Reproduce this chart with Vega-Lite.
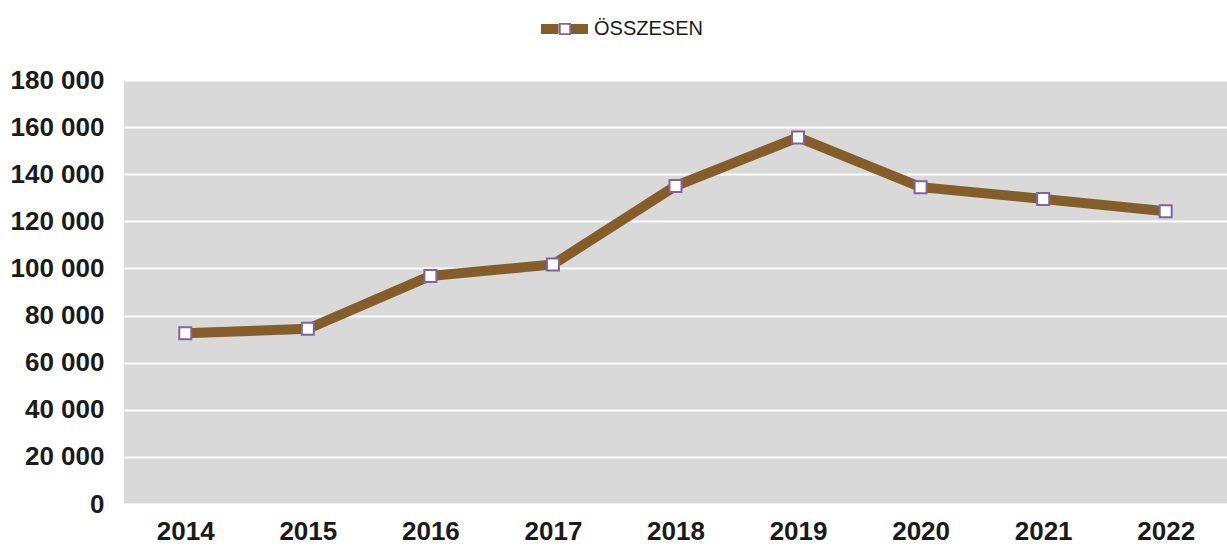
{
  "$schema": "https://vega.github.io/schema/vega-lite/v6.json",
  "width": 1103,
  "height": 424,
  "autosize": {"type": "none"},
  "padding": {"left": 124, "top": 80, "right": 0, "bottom": 43},
  "background": "white",
  "data": {
    "values": [
      {"year": "2014", "value": 72500},
      {"year": "2015", "value": 74400},
      {"year": "2016", "value": 96800},
      {"year": "2017", "value": 101700},
      {"year": "2018", "value": 135000},
      {"year": "2019", "value": 155600},
      {"year": "2020", "value": 134500},
      {"year": "2021", "value": 129500},
      {"year": "2022", "value": 124300}
    ]
  },
  "encoding": {
    "x": {
      "field": "year",
      "type": "ordinal",
      "scale": {"paddingInner": 0, "paddingOuter": 0},
      "axis": {
        "title": null,
        "labelAngle": 0,
        "grid": false,
        "ticks": false,
        "domain": false,
        "labelPadding": 14,
        "labelFontSize": 26,
        "labelFontWeight": "bold",
        "labelFont": "Liberation Sans",
        "labelColor": "#1a1a1a"
      }
    },
    "y": {
      "field": "value",
      "type": "quantitative",
      "scale": {"domain": [0, 180000], "nice": false},
      "axis": {
        "title": null,
        "values": [0, 20000, 40000, 60000, 80000, 100000, 120000, 140000, 160000, 180000],
        "labelExpr": "replace(format(datum.value, ','), ',', ' ')",
        "grid": true,
        "gridColor": "white",
        "gridWidth": 2,
        "ticks": false,
        "domain": false,
        "labelPadding": 20,
        "labelFontSize": 26,
        "labelFontWeight": "bold",
        "labelFont": "Liberation Sans",
        "labelColor": "#1a1a1a"
      }
    }
  },
  "layer": [
    {
      "mark": {"type": "line", "strokeWidth": 10, "strokeJoin": "miter"},
      "encoding": {
        "stroke": {
          "datum": "ÖSSZESEN",
          "scale": {"range": ["#855D2A"]},
          "legend": {
            "orient": "none",
            "legendX": 417,
            "legendY": -74.5,
            "padding": 0,
            "title": null,
            "zindex": 1,
            "symbolType": "M-1,-0.21H-0.25V0.21H-1Z M0.25,-0.21H1V0.21H0.25Z",
            "symbolSize": 2209,
            "symbolStrokeWidth": 0,
            "labelOffset": 6,
            "labelFontSize": 20,
            "labelFont": "Liberation Sans",
            "labelColor": "#1a1a1a",
            "encode": {
              "symbols": {"update": {"fill": {"value": "#855D2A"}, "strokeWidth": {"value": 0}}}
            }
          }
        }
      }
    },
    {
      "mark": {"type": "point", "shape": "square", "filled": true, "fill": "white", "stroke": "#8064A2", "strokeWidth": 2, "opacity": 1, "size": 144}
    },
    {
      "data": {"values": []},
      "mark": {"type": "point", "filled": true, "fill": "#8064A2", "strokeWidth": 0, "opacity": 1, "size": 144},
      "encoding": {
        "shape": {
          "datum": "marker",
          "scale": {"range": ["M-1,-1H1V1H-1Z M-0.72,-0.72V0.72H0.72V-0.72Z"]},
          "legend": {
            "orient": "none",
            "legendX": 435,
            "legendY": -57,
            "padding": 0,
            "title": null,
            "zindex": 2,
            "symbolSize": 144,
            "symbolStrokeWidth": 0,
            "symbolFillColor": "#8064A2",
            "labelExpr": "''",
            "labelOffset": 0
          }
        }
      }
    }
  ],
  "config": {
    "view": {"fill": "#D9D9D9", "stroke": null}
  }
}
